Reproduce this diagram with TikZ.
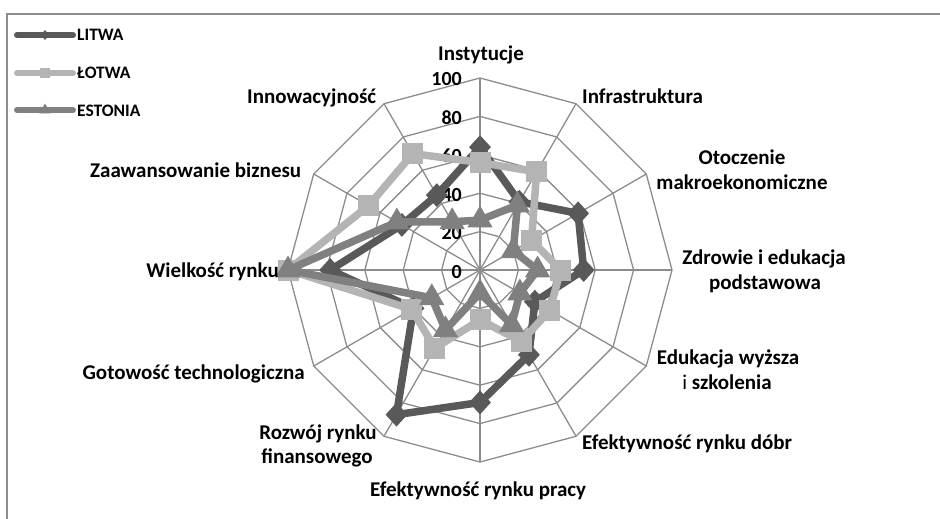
\documentclass[tikz,border=0pt]{standalone}
\usepackage{fontspec}
\setmainfont{Carlito}
\usetikzlibrary{shapes.geometric}
\definecolor{litwa}{HTML}{595959}
\definecolor{lotwa}{HTML}{B4B4B4}
\definecolor{estonia}{HTML}{808080}
\definecolor{gridc}{HTML}{8C8C8C}
\begin{document}
\begin{tikzpicture}[x=1pt,y=-1pt,
  gridline/.style={draw=gridc, line width=1.3pt},
  framel/.style={draw=gridc, line width=1.6pt},
  lab/.style={font=\fontsize{21}{25}\selectfont\bfseries, inner sep=0pt},
  tick/.style={font=\fontsize{20}{22}\selectfont\bfseries, inner sep=0pt, anchor=base east},
  leg/.style={font=\fontsize{17.5}{20}\selectfont\bfseries, inner sep=0pt, anchor=base west},
  serL/.style={draw=litwa, line width=7.5pt, line join=round},
  serO/.style={draw=lotwa, line width=7.5pt, line join=round},
  serE/.style={draw=estonia, line width=7.5pt, line join=round},
  mkL/.style={diamond, fill=litwa, minimum width=22pt, minimum height=24pt, inner sep=0pt},
  mkO/.style={rectangle, fill=lotwa, minimum size=21pt, inner sep=0pt},
  mkE/.style={regular polygon, regular polygon sides=3, fill=estonia, minimum size=29pt, inner sep=0pt},
  legL/.style={diamond, fill=litwa, minimum width=9pt, minimum height=10pt, inner sep=0pt},
  legO/.style={rectangle, fill=lotwa, minimum size=10pt, inner sep=0pt},
  legE/.style={regular polygon, regular polygon sides=3, fill=estonia, minimum size=13pt, inner sep=0pt},
]
\useasboundingbox (0,0) rectangle (940,519);
% frame
\draw[framel] (7,519) -- (7,14) -- (940,14);

% radar grid
\begin{scope}[shift={(480,270)}]
  \foreach \k in {1,...,5}{
    \draw[gridline] (-90:\k*38.4) -- (-60:\k*38.4) -- (-30:\k*38.4) -- (0:\k*38.4)
      -- (30:\k*38.4) -- (60:\k*38.4) -- (90:\k*38.4) -- (120:\k*38.4)
      -- (150:\k*38.4) -- (180:\k*38.4) -- (210:\k*38.4) -- (240:\k*38.4) -- cycle;
  }
  \foreach \i in {0,...,11}{
    \draw[gridline] (0,0) -- (\i*30-90:192);
  }
  % data coordinates
  \foreach \v [count=\j from 0] in {64,41,59,54,33,51,69,87,40,78,47,45}{
    \coordinate (L\j) at (\j*30-90:\v*1.92);
  }
  \foreach \v [count=\j from 0] in {56,59,31,42,42,43,26,47,41,100,67,70}{
    \coordinate (O\j) at (\j*30-90:\v*1.92);
  }
  \foreach \v [count=\j from 0] in {26,39,20,30,24,33,12,36,29,100,50,29}{
    \coordinate (E\j) at (\j*30-90:\v*1.92);
  }
\end{scope}

% tick labels
\node[tick] (t100) at (462,85) {100};
\node[tick] (t80) at (462,124) {80};
\node[tick] (t60) at (462,162) {60};
\node[tick] (t40) at (462,201) {40};
\node[tick] (t20) at (462,239) {20};
\node[tick] (t0) at (462,278) {0};

% LITWA
\draw[serL] (L0) -- (L1) -- (L2) -- (L3) -- (L4) -- (L5) -- (L6) -- (L7) -- (L8) -- (L9) -- (L10) -- (L11) -- cycle;
\foreach \j in {0,...,11}{ \node[mkL] (mL\j) at (L\j) {}; }
% LOTWA
\draw[serO] (O0) -- (O1) -- (O2) -- (O3) -- (O4) -- (O5) -- (O6) -- (O7) -- (O8) -- (O9) -- (O10) -- (O11) -- cycle;
\foreach \j in {0,...,11}{ \node[mkO] (mO\j) at (O\j) {}; }
% ESTONIA
\draw[serE] (E0) -- (E1) -- (E2) -- (E3) -- (E4) -- (E5) -- (E6) -- (E7) -- (E8) -- (E9) -- (E10) -- (E11) -- cycle;
\foreach \j in {0,...,11}{ \node[mkE] (mE\j) at (E\j) {}; }

% axis labels
\node[lab, anchor=base] (a0) at (481,60) {Instytucje};
\node[lab, anchor=base west] (a1) at (582,103) {Infrastruktura};
\node[lab, anchor=base] (a2a) at (742,164) {Otoczenie};
\node[lab, anchor=base] (a2b) at (742,189) {makroekonomiczne};
\node[lab, anchor=base] (a3a) at (764,264) {Zdrowie i edukacja};
\node[lab, anchor=base] (a3b) at (765,289) {podstawowa};
\node[lab, anchor=base] (a4a) at (728,364) {Edukacja wyższa};
\node[lab, anchor=base] (a4b) at (727,389) {{\mdseries i} szkolenia};
\node[lab, anchor=base west] (a5) at (582,449) {Efektywność rynku dóbr};
\node[lab, anchor=base west] (a6) at (370,496) {Efektywność rynku pracy};
\node[lab, anchor=base] (a7a) at (318,439) {Rozwój rynku};
\node[lab, anchor=base] (a7b) at (317,463) {finansowego};
\node[lab, anchor=base east] (a8) at (305,379) {Gotowość technologiczna};
\node[lab, anchor=base east] (a9) at (279,277) {Wielkość rynku};
\node[lab, anchor=base west] (a10) at (90,177) {Zaawansowanie biznesu};
\node[lab, anchor=base west] (a11) at (247,103) {Innowacyjność};

% legend
\coordinate (gL1) at (17,35); \coordinate (gL2) at (73,35);
\coordinate (gO1) at (17,73); \coordinate (gO2) at (73,73);
\coordinate (gE1) at (17,110); \coordinate (gE2) at (73,110);
\draw[draw=litwa, line width=6pt, line cap=round] (gL1) -- (gL2);
\node[legL] (kL) at (45,35) {};
\draw[draw=lotwa, line width=6pt, line cap=round] (gO1) -- (gO2);
\node[legO] (kO) at (45,73) {};
\draw[draw=estonia, line width=6pt, line cap=round] (gE1) -- (gE2);
\node[legE] (kE) at (45,110) {};
\node[leg] (nL) at (77,40.5) {LITWA};
\node[leg] (nO) at (77,79) {ŁOTWA};
\node[leg] (nE) at (77,116) {ESTONIA};
\end{tikzpicture}
\end{document}
